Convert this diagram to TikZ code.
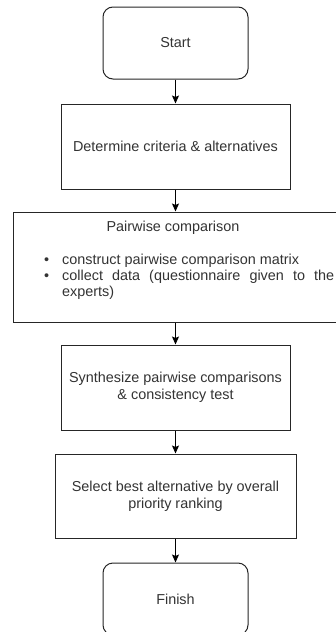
\documentclass[tikz,border=0pt]{standalone}
\usepackage{fontspec}
\setmainfont{Liberation Sans}
\usetikzlibrary{arrows.meta}
\begin{document}
\begin{tikzpicture}[x=1pt,y=-1pt,
  every node/.style={font=\fontsize{14.4}{17.3}\selectfont, text=black!80},
  boxst/.style={draw=black!85, line width=1pt, fill=white, inner sep=0pt, align=center},
  termst/.style={boxst, rounded corners=10pt},
  txt/.style={inner sep=0pt, anchor=base west},
  arr/.style={draw=black, line width=1pt, -{Stealth[length=8pt,width=7pt,inset=1.5pt]}}
]
\useasboundingbox (0,0) rectangle (336,632);
\clip (0,0) rectangle (336,632);
\fill[white] (0,0) rectangle (336,632);

\node[termst, minimum width=145pt, minimum height=72pt] (start) at (175.5,43) {Start};
\node[boxst, minimum width=229pt, minimum height=85pt] (det) at (175.5,146.5) {Determine criteria \& alternatives};
\node[boxst, minimum width=332pt, minimum height=110pt] (pair) at (179,267) {};
\node[boxst, minimum width=229pt, minimum height=85pt] (syn) at (175.5,387.5) {Synthesize pairwise comparisons\\\& consistency test};
\node[boxst, minimum width=241pt, minimum height=84pt] (sel) at (175.5,496) {Select best alternative by overall\\priority ranking};
\node[termst, minimum width=145pt, minimum height=72pt] (fin) at (175.5,599) {Finish};

\node[inner sep=0pt, anchor=base] (ptitle) at (173,231) {Pairwise comparison};
\node[txt] (d1) at (44,264) {•};
\node[txt] (l1) at (62,264) {construct pairwise comparison matrix};
\node[txt] (d2) at (44,280) {•};
\node[txt] (l2) at (62,280) {\makebox[272pt][s]{collect data (questionnaire given to the}};
\node[txt] (l3) at (62,296) {experts)};

\draw[arr] (start) -- (det);
\draw[arr] (det) -- (det.south |- pair.north);
\draw[arr] (syn.north |- pair.south) -- (syn);
\draw[arr] (syn) -- (sel);
\draw[arr] (sel) -- (fin);
\end{tikzpicture}
\end{document}
